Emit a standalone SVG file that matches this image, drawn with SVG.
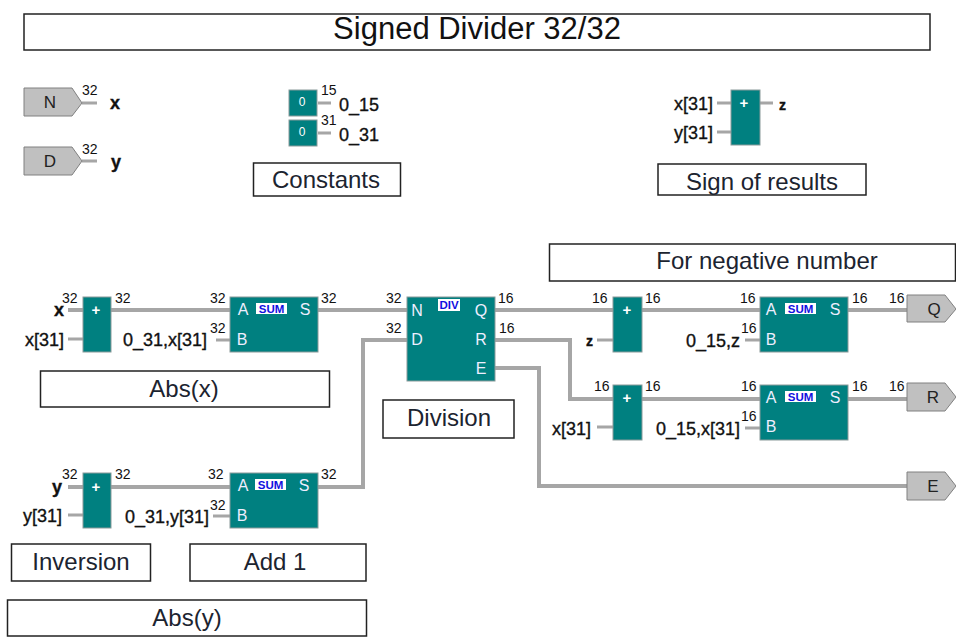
<svg xmlns="http://www.w3.org/2000/svg" width="956" height="637" viewBox="0 0 956 637">
<style>
text{font-family:"Liberation Sans",Arial,sans-serif;fill:#111}
.box{fill:#fff;stroke:#222;stroke-width:1.5}
.cap{font-size:24px;text-anchor:middle;fill:#1c2430}
.title{font-size:31px;text-anchor:middle;fill:#111}
.block{fill:#008080;stroke:#8a9a9a;stroke-width:1}
.port{fill:#c0c0c0;stroke:#808080;stroke-width:1}
.w{fill:none;stroke:#a6a6a6;stroke-width:4}
.t{fill:none;stroke:#a6a6a6;stroke-width:3}
.n{font-size:14px}
.l{font-size:18px;stroke:#111;stroke-width:.35}
.e{text-anchor:end}
.b{font-weight:bold}
.p{font-size:16px;fill:#eef;text-anchor:middle}
.pl{font-size:17px;fill:#222;text-anchor:middle}
.o{font-size:15px;font-weight:bold;fill:#fff;text-anchor:middle}
.z{font-size:12px;fill:#fff;text-anchor:middle}
.tagb{fill:#fff}
.tag{font-size:11.500px;font-weight:bold;fill:#1010e0;text-anchor:middle}
</style>
<g id="connectors">
<path class="t" d="M82 103H97M82 161H97M318 103H331M318 133H331"/>
<path class="t" d="M717 103H731M717 132H731M760 103H773"/>
<path class="w" d="M68 310H83M111 310H230M318 310H407"/>
<path class="t" d="M68 339H83M216 340H230"/>
<path class="w" d="M68 487H83M111 487H230"/>
<path class="t" d="M68 515H83M213 516H230"/>
<path class="w" d="M318 487H363V340H407"/>
<path class="w" d="M495 310H613M642 310H760M848 310H907"/>
<path class="w" d="M495 340H570V399H613M642 399H760M848 399H907"/>
<path class="w" d="M495 368H539V486H907"/>
<path class="t" d="M597 340H613M597 427H613M745 340H760M745 428H760"/>
</g>
<g id="title"><rect class="box" x="24" y="14" width="906" height="36"/><text class="title" x="477" y="39">Signed Divider 32/32</text></g>
<g id="port-N"><path class="port" d="M24 88H72L82 103L72 116H24Z"/><text class="pl" x="50" y="108">N</text><text class="n" x="82" y="95">32</text><text class="l b" x="110" y="109">x</text></g>
<g id="port-D"><path class="port" d="M24 147H72L82 161L72 175H24Z"/><text class="pl" x="50" y="167">D</text><text class="n" x="82" y="154">32</text><text class="l b" x="111" y="168">y</text></g>
<g id="const-15"><rect class="block" x="289" y="90" width="28" height="26"/><text class="z" x="302" y="106">0</text><text class="n" x="321" y="95">15</text><text class="l" x="339" y="111">0_15</text></g>
<g id="const-31"><rect class="block" x="289" y="120" width="28" height="26"/><text class="z" x="302" y="136">0</text><text class="n" x="321" y="125">31</text><text class="l" x="339" y="141">0_31</text></g>
<g id="constants-label"><rect class="box" x="253.500" y="163" width="147" height="33"/><text class="cap" x="326" y="188">Constants</text></g>
<g id="sign-add"><rect class="block" x="731" y="90" width="29" height="55"/><text class="o" x="744" y="108">+</text><text class="l e" x="713" y="110">x[31]</text><text class="l e" x="713" y="139">y[31]</text><text class="l b" x="779" y="110" style="font-size:14px">z</text></g>
<g id="sign-label"><rect class="box" x="658" y="164" width="208" height="31"/><text class="cap" x="762" y="190">Sign of results</text></g>
<g id="neg-label"><rect class="box" x="549.500" y="244" width="406" height="37"/><text class="cap" x="767" y="269">For negative number</text></g>
<g id="add-x"><rect class="block" x="83" y="297" width="28" height="55"/><text class="o" x="96" y="315">+</text><text class="l b e" x="64" y="316">x</text><text class="l e" x="64" y="346">x[31]</text><text class="n" x="62" y="303">32</text><text class="n" x="115" y="303">32</text></g>
<g id="sum-x"><rect class="block" x="230" y="297" width="88" height="55"/><rect class="tagb" x="256" y="303" width="31" height="11"/><text class="tag" x="271.500" y="313">SUM</text><text class="p" x="243" y="315">A</text><text class="p" x="242" y="345">B</text><text class="p" x="305" y="315">S</text><text class="n" x="210" y="303">32</text><text class="n" x="210" y="333">32</text><text class="n" x="321" y="303">32</text><text class="l e" x="207" y="346">0_31,x[31]</text></g>
<g id="abs-x-label"><rect class="box" x="40.500" y="371" width="289" height="36"/><text class="cap" x="184" y="397">Abs(x)</text></g>
<g id="div"><rect class="block" x="407" y="297" width="88" height="84"/><rect class="tagb" x="438" y="299" width="22" height="12"/><text class="tag" x="449" y="309">DIV</text><text class="p" x="417" y="316">N</text><text class="p" x="417" y="345">D</text><text class="p" x="481" y="316">Q</text><text class="p" x="481" y="345">R</text><text class="p" x="481" y="374">E</text><text class="n" x="386" y="303">32</text><text class="n" x="386" y="333">32</text><text class="n" x="498" y="303">16</text><text class="n" x="499" y="333">16</text></g>
<g id="division-label"><rect class="box" x="383" y="400" width="131" height="38"/><text class="cap" x="449" y="426">Division</text></g>
<g id="add-z"><rect class="block" x="613" y="297" width="29" height="55"/><text class="o" x="627" y="315">+</text><text class="l b e" x="593" y="346" style="font-size:14px">z</text><text class="n" x="592" y="303">16</text><text class="n" x="645" y="303">16</text></g>
<g id="add-r"><rect class="block" x="613" y="385" width="29" height="55"/><text class="o" x="627" y="403">+</text><text class="l e" x="591" y="435">x[31]</text><text class="n" x="594" y="391">16</text><text class="n" x="645" y="391">16</text></g>
<g id="sum-q"><rect class="block" x="760" y="297" width="88" height="55"/><rect class="tagb" x="785" y="303" width="31" height="11"/><text class="tag" x="800.500" y="313">SUM</text><text class="p" x="771" y="315">A</text><text class="p" x="771" y="345">B</text><text class="p" x="835" y="315">S</text><text class="n" x="740" y="303">16</text><text class="n" x="741" y="333">16</text><text class="n" x="852" y="303">16</text><text class="n" x="889" y="303">16</text><text class="l" x="686" y="347">0_15,z</text></g>
<g id="sum-r"><rect class="block" x="760" y="385" width="88" height="55"/><rect class="tagb" x="785" y="391" width="31" height="11"/><text class="tag" x="800.500" y="401">SUM</text><text class="p" x="771" y="403">A</text><text class="p" x="771" y="432">B</text><text class="p" x="835" y="403">S</text><text class="n" x="741" y="391">16</text><text class="n" x="741" y="421">16</text><text class="n" x="852" y="391">16</text><text class="n" x="889" y="391">16</text><text class="l e" x="740" y="435">0_15,x[31]</text></g>
<g id="port-Q"><path class="port" d="M907 295H945L956 309L945 322H907Z"/><text class="pl" x="934" y="315">Q</text></g>
<g id="port-R"><path class="port" d="M907 383H945L956 397L945 411H907Z"/><text class="pl" x="933" y="403">R</text></g>
<g id="port-E"><path class="port" d="M907 472H945L956 486L945 500H907Z"/><text class="pl" x="933" y="492">E</text></g>
<g id="add-y"><rect class="block" x="83" y="473" width="28" height="55"/><text class="o" x="96" y="492">+</text><text class="l b e" x="62" y="493">y</text><text class="l e" x="62" y="522">y[31]</text><text class="n" x="62" y="479">32</text><text class="n" x="115" y="479">32</text></g>
<g id="sum-y"><rect class="block" x="230" y="473" width="88" height="55"/><rect class="tagb" x="255" y="479" width="31" height="11"/><text class="tag" x="270.500" y="489">SUM</text><text class="p" x="243" y="491">A</text><text class="p" x="242" y="521">B</text><text class="p" x="304" y="491">S</text><text class="n" x="208" y="479">32</text><text class="n" x="210" y="510">32</text><text class="n" x="321" y="479">32</text><text class="l e" x="209" y="523">0_31,y[31]</text></g>
<g id="inversion-label"><rect class="box" x="11.500" y="544" width="139" height="37"/><text class="cap" x="81" y="570">Inversion</text></g>
<g id="add1-label"><rect class="box" x="190" y="544" width="176" height="37"/><text class="cap" x="275" y="570">Add 1</text></g>
<g id="abs-y-label"><rect class="box" x="7.500" y="600" width="359" height="36"/><text class="cap" x="187" y="626">Abs(y)</text></g>
</svg>
